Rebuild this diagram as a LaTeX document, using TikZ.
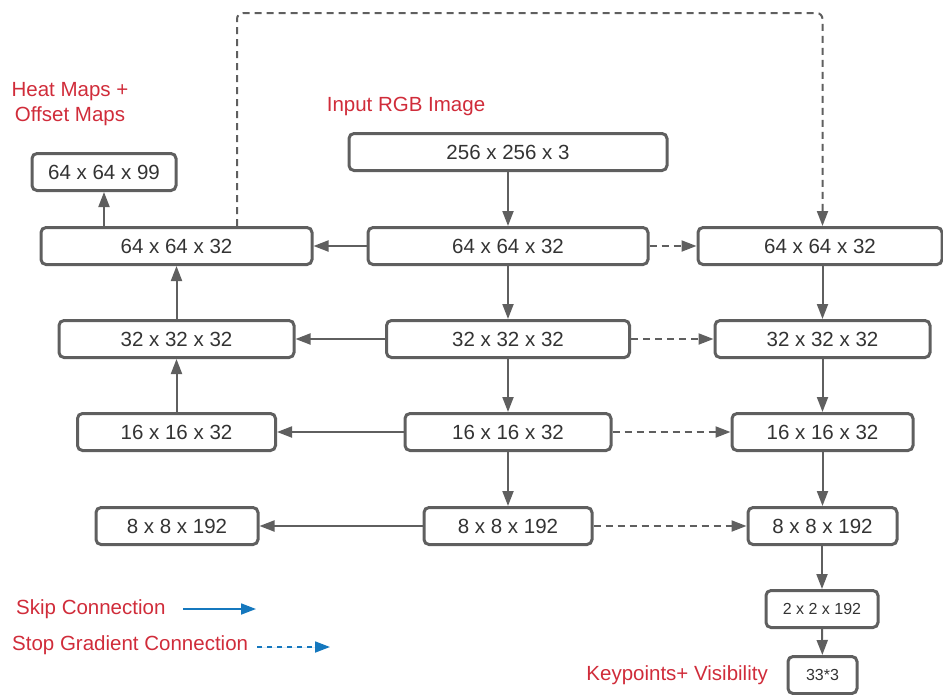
\documentclass[tikz,border=0pt]{standalone}
\usepackage{fontspec}
\setmainfont{Liberation Sans}
\usetikzlibrary{arrows.meta,positioning}

\definecolor{linegray}{HTML}{5F5F5F}
\definecolor{textgray}{HTML}{333333}
\definecolor{labelred}{HTML}{D02C3A}
\definecolor{legendblue}{HTML}{1578BE}

\tikzset{
  box/.style={rectangle, draw=linegray, line width=3pt, rounded corners=5pt,
    minimum height=37pt, inner sep=0pt, text=textgray, font=\fontsize{20.5}{24}\selectfont},
  smallbox/.style={box, font=\fontsize{16}{19}\selectfont},
  lbl/.style={text=labelred, font=\fontsize{20.5}{25}\selectfont, inner sep=0pt},
  arr/.style={draw=linegray, line width=2pt, -{Triangle[length=15pt,width=11pt]}},
  dasharr/.style={arr, dash pattern=on 7pt off 5pt},
}

\begin{document}
\begin{tikzpicture}[x=1pt,y=-1pt]
\useasboundingbox (0,0) rectangle (943,694);

\node[lbl] (inlbl) at (406,106) {Input RGB Image};
\node[lbl, align=center] (heatlbl) at (70,104.5) {Heat Maps +\\Offset Maps};

\node[box, minimum width=318pt] (in) at (508,152) {256 x 256 x 3};
\node[box, minimum width=144pt] (out) at (104,172) {64 x 64 x 99};

% encoder column
\node[box, minimum width=280pt] (m1) at (508,246) {64 x 64 x 32};
\node[box, minimum width=243pt] (m2) at (508,339) {32 x 32 x 32};
\node[box, minimum width=206pt] (m3) at (508,432) {16 x 16 x 32};
\node[box, minimum width=168pt] (m4) at (508,526) {8 x 8 x 192};

% decoder column
\node[box, minimum width=271pt] (l1) at (176.5,246) {64 x 64 x 32};
\node[box, minimum width=235pt] (l2) at (176.5,339) {32 x 32 x 32};
\node[box, minimum width=198pt] (l3) at (176.5,432) {16 x 16 x 32};
\node[box, minimum width=162pt] (l4) at (177,526) {8 x 8 x 192};

% regression column
\node[box, minimum width=244pt] (r1) at (820,246) {64 x 64 x 32};
\node[box, minimum width=215pt] (r2) at (822.5,339) {32 x 32 x 32};
\node[box, minimum width=181pt] (r3) at (822.5,432) {16 x 16 x 32};
\node[box, minimum width=149pt] (r4) at (822.5,526) {8 x 8 x 192};
\node[smallbox, minimum width=112pt] (r5) at (822,609) {2 x 2 x 192};
\node[smallbox, minimum width=69pt] (r6) at (822.5,675) {33*3};
\node[lbl, anchor=east] (kplbl) at (768,675) {Keypoints+ Visibility};

\draw[arr] (in) -- (m1);
\draw[arr] (m1) -- (m2);
\draw[arr] (m2) -- (m3);
\draw[arr] (m3) -- (m4);

\draw[arr] (m1) -- (l1);
\draw[arr] (m2) -- (l2);
\draw[arr] (m3) -- (l3);
\draw[arr] (m4) -- (l4);

\draw[dasharr] (m1) -- (r1);
\draw[dasharr] (m2) -- (r2);
\draw[dasharr] (m3) -- (r3);
\draw[dasharr] (m4) -- (r4);

\draw[arr] (l3) -- (l2);
\draw[arr] (l2) -- (l1);
\draw[arr] (l1.north -| out) -- (out);

\draw[arr] (r1.south -| r2) -- (r2);
\draw[arr] (r2) -- (r3);
\draw[arr] (r3) -- (r4);
\draw[arr] (r4.south -| r5) -- (r5);
\draw[arr] (r5) -- (r6);

% stop gradient loop over the top
\coordinate (loop) at (237,13);
\draw[dasharr, rounded corners=6pt] (l1.north -| loop) -- (loop) -| (r1.north -| r2);

% legend
\node[lbl, anchor=west] (skiplbl) at (16,609) {Skip Connection};
\node[lbl, anchor=west] (stoplbl) at (12,645) {Stop Gradient Connection};
\coordinate (skipa) at (183,609);
\coordinate (skipb) at (256,609);
\coordinate (stopa) at (257,647);
\coordinate (stopb) at (330,647);
\draw[arr, draw=legendblue, fill=legendblue, line width=1.8pt] (skipa) -- (skipb);
\draw[dasharr, draw=legendblue, fill=legendblue, line width=1.8pt, dash pattern=on 5pt off 5pt] (stopa) -- (stopb);
\end{tikzpicture}
\end{document}
